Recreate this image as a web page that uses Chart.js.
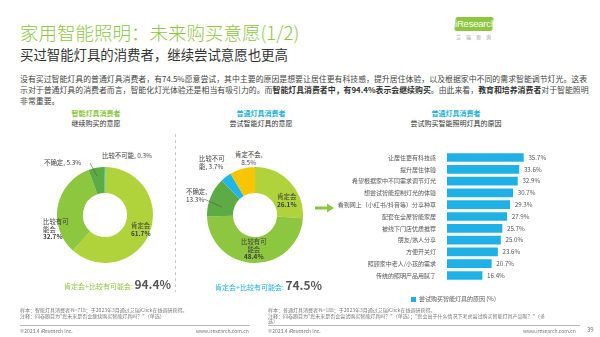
<!doctype html>
<html>

<head>
  <meta charset="utf-8">
  <title>家用智能照明：未来购买意愿</title>
  <style>
    html, body { margin: 0; padding: 0; background: #fff; }
    body { font-family: "Noto Sans CJK SC", "Noto Sans", sans-serif; color: #404040; }
    #page { position: relative; width: 600px; height: 337px; overflow: hidden; }
    .abs { position: absolute; white-space: nowrap; }
    .title { left: 20px; top: 20px; font-size: 18.5px; color: #8dc63f; line-height: 24px; font-weight: 300; }
    .subtitle { left: 20px; top: 45px; font-size: 13.4px; color: #333; line-height: 18px; }
    .para { left: 20px; top: 73px; font-size: 7.9px; line-height: 11px; color: #444; }
    .para b { color: #333; }
    .logo { left: 455px; top: 17px; width: 38px; height: 14px; background: #8dc63f; transform: skewX(-6deg);
            border-radius: 2px; }
    .logo span { display: block; transform: skewX(6deg); color: #fff; font-family: "Liberation Sans", sans-serif;
                 font-size: 9.5px; line-height: 14px; text-align: center; letter-spacing: -0.2px; }
    .logo-cn { left: 456px; top: 33px; font-size: 5px; color: #999; letter-spacing: 5px; }
    .ptitle { font-size: 7px; line-height: 10px; text-align: center; }
    .green { color: #8dc63f; }
    .cyan { color: #1fb1e6; }
    .dark { color: #333; }
    .lbl { font-size: 6.4px; line-height: 7.6px; color: #404040; }
    .total { font-size: 7px; line-height: 14px; }
    .total b { font-size: 12px; color: #555; font-weight: 700; }
    .foot { font-size: 5px; line-height: 5.6px; color: #777; }
    .legend { left: 411px; top: 294px; font-size: 6px; color: #555; }
    .legend i { display: inline-block; width: 5px; height: 5px; background: #1fb1e6; margin-right: 3px; vertical-align: -0.5px; }
    canvas { position: absolute; }
  </style>
</head>

<body>
  <div id="page">
    <div class="abs title">家用智能照明：未来购买意愿(1/2)</div>
    <div class="abs subtitle">买过智能灯具的消费者，继续尝试意愿也更高</div>
    <div class="abs logo"><span>iResearch</span></div>
    <div class="abs logo-cn">艾瑞咨询</div>
    <div class="abs para">没有买过智能灯具的普通灯具消费者，有74.5%愿意尝试，其中主要的原因是想要让居住更有科技感，提升居住体验，以及根据家中不同的需求智能调节灯光。这表<br>示对于普通灯具的消费者而言，智能化灯光体验还是相当有吸引力的。而<b>智能灯具消费者中，有94.4%表示会继续购买</b>。由此来看，<b>教育和培养消费者</b>对于智能照明<br>非常重要。</div>

    <!-- panel titles -->
    <div class="abs ptitle" style="left:56px; top:108px; width:80px;"><span class="green"><b>智能灯具消费者</b></span><br><span class="dark">继续购买的意愿</span></div>
    <div class="abs ptitle" style="left:216px; top:108px; width:90px;"><span class="cyan"><b>普通灯具消费者</b></span><br><span class="dark">尝试智能灯具的意愿</span></div>
    <div class="abs ptitle" style="left:396px; top:108px; width:120px;"><span class="cyan"><b>普通灯具消费者</b></span><br><span class="dark">尝试购买智能照明灯具的原因</span></div>

    <canvas id="donut1" width="96" height="96" style="left:57px; top:167px;"></canvas>
    <canvas id="donut2" width="96" height="96" style="left:207px; top:167px;"></canvas>
    <canvas id="bars" width="219" height="143" style="left:335px; top:145px;"></canvas>

    <!-- donut 1 labels -->
    <div class="abs lbl" style="left:102px; top:152px;">比较不可能, 0.3%</div>
    <div class="abs lbl" style="left:44px; top:159px;">不确定, 5.3%</div>
    <div class="abs lbl" style="left:43px; top:218px;">比较有可<br>能会<br><b>32.7%</b></div>
    <div class="abs lbl" style="left:131px; top:222px;">肯定会<br><b>61.7%</b></div>

    <!-- donut 2 labels -->
    <div class="abs lbl" style="left:235px; top:151px; text-align:center;">肯定不会,<br>8.5%</div>
    <div class="abs lbl" style="left:199px; top:155px;">比较不可<br>能, 3.7%</div>
    <div class="abs lbl" style="left:186px; top:188px;">不确定,<br>13.3%</div>
    <div class="abs lbl" style="left:277px; top:193px; text-align:center;">肯定会<br><b>26.1%</b></div>
    <div class="abs lbl" style="left:241px; top:238px; text-align:center;">比较有可<br>能会<br><b>48.4%</b></div>

    <div class="abs total" style="left:64px; top:277px;"><span class="green">肯定会+比较有可能会:</span> <b>94.4%</b></div>
    <div class="abs total" style="left:215px; top:278px;"><span class="cyan">肯定会+比较有可能会:</span> <b>74.5%</b></div>

    <svg class="abs" style="left:0; top:0;" width="600" height="337">
      <line x1="175.5" y1="134" x2="175.5" y2="292" stroke="#c8c8c8" stroke-width="1" stroke-dasharray="3,3" />
      <line x1="90" y1="163" x2="97" y2="176" stroke="#555" stroke-width="0.6" />
      <line x1="204" y1="199" x2="222" y2="207" stroke="#555" stroke-width="0.6" />
      <path d="M315 206.5 L327 206.5 L327 203.5 L334 208 L327 212.5 L327 209.5 L315 209.5 Z" fill="#8dc63f" />
      <line x1="20" y1="325.5" x2="250" y2="325.5" stroke="#888" stroke-width="0.6" />
      <line x1="268" y1="325.5" x2="580" y2="325.5" stroke="#888" stroke-width="0.6" />
    </svg>

    <div class="abs legend"><i></i>尝试购买智能灯具的原因 (%)</div>

    <div class="abs foot" style="left:20px; top:307px;">样本：智能灯具消费者 N=718；于2023年3月通过艾瑞iClick在线调研获得。<br>注释：问卷题目为"您未来是否会继续购买智能灯具吗？"（单选）</div>
    <div class="abs foot" style="left:268px; top:307px;">样本：普通灯具消费者 N=188；于2023年3月通过艾瑞iClick在线调研获得。<br>注释：问卷题目为"您未来是否会尝试购买智能灯具吗？"（单选）；"您会出于什么情况下考虑尝试购买智能灯具产品呢？"（多<br>选）</div>
    <div class="abs foot" style="left:20px; top:328px;">©2023.4 iResearch Inc.</div>
    <div class="abs foot" style="left:196px; top:328px;">www.iresearch.com.cn</div>
    <div class="abs foot" style="left:268px; top:328px;">©2023.4 iResearch Inc.</div>
    <div class="abs foot" style="left:523px; top:328px;">www.iresearch.com.cn</div>
    <div class="abs foot" style="left:587px; top:327px; font-size:6px;">39</div>
  </div>

  <script src="https://cdn.jsdelivr.net/npm/chart.js"></script>
  <script>
    // 智能灯具消费者：继续购买的意愿
    const smartLabels = ['肯定会', '比较有可能会', '不确定', '比较不可能'];
    const smartValues = [61.7, 32.7, 5.3, 0.3];

    // 普通灯具消费者：尝试智能灯具的意愿
    const normalLabels = ['肯定会', '比较有可能会', '不确定', '比较不可能', '肯定不会'];
    const normalValues = [26.1, 48.4, 13.3, 3.7, 8.5];

    // 尝试购买智能照明灯具的原因 (%)
    const reasons = [
      '让居住更有科技感',
      '提升居住体验',
      '希望根据家中不同需求调节灯光',
      '想尝试智能控制灯光的体验',
      '看到网上（小红书/抖音等）分享种草',
      '配套在全屋智能家居',
      '被线下门店优质推荐',
      '朋友/熟人分享',
      '方便开关灯',
      '照顾家中老人/小孩的需求',
      '传统的照明产品用腻了'
    ];
    const reasonValues = [35.7, 33.6, 32.9, 30.7, 29.3, 27.9, 25.7, 25.0, 23.6, 20.7, 16.4];

    const FONT = '"Noto Sans CJK SC", sans-serif';
    const answerColors = {
      '肯定会': '#b0d23a',
      '比较有可能会': '#8dc63f',
      '不确定': '#5cab45',
      '比较不可能': '#22b6e8',
      '肯定不会': '#f8c600'
    };

    Chart.defaults.font.family = FONT;
    Chart.defaults.animation = false;

    function donut(id, labels, values) {
      return new Chart(document.getElementById(id), {
        type: 'doughnut',
        data: {
          labels: labels,
          datasets: [{
            data: values,
            backgroundColor: labels.map((l) => answerColors[l]),
            borderWidth: 0
          }]
        },
        options: {
          responsive: false,
          devicePixelRatio: 1,
          cutout: '46%',
          events: [],
          layout: { padding: 0 },
          plugins: { legend: { display: false }, tooltip: { enabled: false } }
        }
      });
    }

    donut('donut1', smartLabels, smartValues);
    donut('donut2', normalLabels, normalValues);

    const valueLabels = {
      id: 'valueLabels',
      afterDatasetsDraw(chart) {
        const ctx = chart.ctx;
        const meta = chart.getDatasetMeta(0);
        ctx.save();
        ctx.font = '6.2px ' + FONT;
        ctx.fillStyle = '#555';
        ctx.textBaseline = 'middle';
        meta.data.forEach((bar, i) => {
          ctx.fillText(reasonValues[i].toFixed(1) + '%', bar.x + 5, bar.y);
        });
        ctx.restore();
      }
    };

    new Chart(document.getElementById('bars'), {
      type: 'bar',
      data: {
        labels: reasons,
        datasets: [{
          label: '尝试购买智能灯具的原因 (%)',
          data: reasonValues,
          backgroundColor: '#1fb1e6',
          barThickness: 8
        }]
      },
      options: {
        indexAxis: 'y',
        responsive: false,
        devicePixelRatio: 1,
        events: [],
        layout: { padding: 0 },
        scales: {
          x: { display: false, min: 0, max: 50 },
          y: {
            grid: { display: false },
            border: { display: false },
            ticks: { autoSkip: false, padding: 3, color: '#555', font: { size: 6 } },
            afterFit(scale) { scale.width = 112; }
          }
        },
        plugins: { legend: { display: false }, tooltip: { enabled: false } }
      },
      plugins: [valueLabels]
    });
  </script>
</body>

</html>
